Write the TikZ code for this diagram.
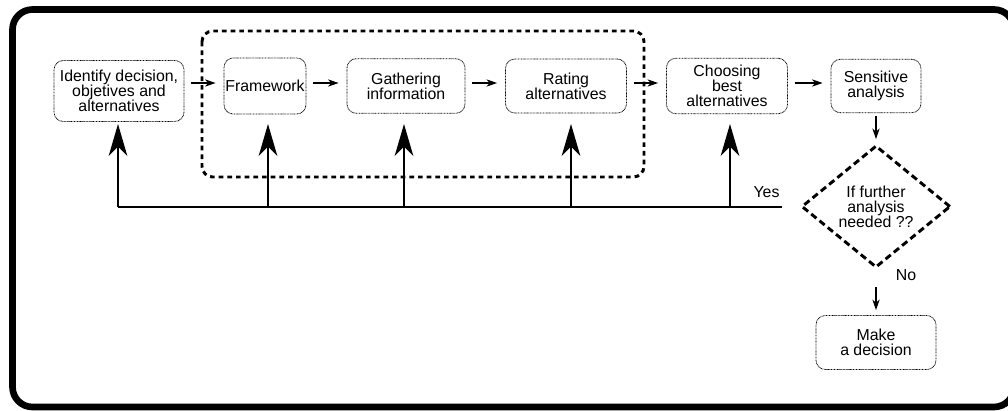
\documentclass[tikz,border=0pt]{standalone}
\usepackage{fontspec}
\setmainfont{Liberation Sans}
\usepackage{tikz}
\usetikzlibrary{arrows.meta,shapes.geometric}

\tikzset{
    stage/.style={draw, dash pattern=on 0.6pt off 0.5pt, line width=0.6pt,
                  rounded corners=7pt, align=center, inner sep=1pt},
    check/.style={diamond, draw, dash pattern=on 5pt off 3pt, line width=2.2pt,
                  align=center, inner sep=0pt, minimum width=111.75pt, minimum height=91.5pt},
    flow/.style={->, line width=0.8pt, shorten <=5pt, shorten >=6pt},
    bigup/.style={-{Stealth[length=24pt, width=14pt, inset=7pt]}, line width=1.5pt},
    back/.style={line width=2.2pt},
    group/.style={dash pattern=on 3.5pt off 3pt, line width=2.2pt, rounded corners=8pt},
    frame/.style={line width=5pt, rounded corners=15pt}
}

\begin{document}
\begin{tikzpicture}[x=0.75pt, y=-0.75pt, >={Stealth[length=8pt, width=5.5pt, inset=2.5pt]},
                    font=\fontsize{11.9}{11.3}\selectfont]
    \useasboundingbox (0,0) rectangle (1008,411);
    \clip (0,0) rectangle (1008,411);

    % Frame and group
    \draw [frame] (12.5,9.5) rectangle (1014,407);
    \draw [group] (202,31) rectangle (644,177);

    % Nodes {id, fw, ga, rt, ch, se, dec, mk}
    \node [stage, minimum width=97.5pt, minimum height=45.75pt] (id) at (119,91) {Identify decision,\\objetives and\\alternatives};
    \node [stage, minimum width=61.5pt, minimum height=42pt]  (fw) [right of=id, node distance=109.5pt, yshift=3.75pt] {Framework};
    \node [stage, minimum width=88.5pt, minimum height=41pt]  (ga) [right of=fw, node distance=105.75pt] {Gathering\\information};
    \node [stage, minimum width=90.75pt, minimum height=40.5pt] (rt) [right of=ga, node distance=120pt] {Rating\\alternatives};
    \node [stage, minimum width=90.75pt, minimum height=41.5pt] (ch) [right of=rt, node distance=120.75pt] {Choosing\\best\\alternatives};
    \node [stage, minimum width=67.5pt, minimum height=40pt]  (se) [right of=ch, node distance=111.75pt] {Sensitive\\analysis};
    \node [check]  (dec) [below of=se, node distance=90.4pt] {If further\\analysis\\needed ??};
    \node [stage, minimum width=90pt, minimum height=40.5pt]  (mk) [below of=dec, node distance=102pt] {Make\\a decision};
    \node (no) at ([xshift=22.5pt, yshift=-4.5pt]dec.south) {No};

    % Feedback line
    \coordinate (fbl) at (118,207);
    \coordinate (fbr) at (782,207);
    \coordinate (top) at (0,124);
    \draw [back] (fbl) -- (fbr) node [anchor=base east, xshift=2.5pt, yshift=7.5pt] (yes) {Yes};
    \foreach \n/\dx in {id/-0.75pt, fw/2.25pt, ga/-1.5pt, rt/3.75pt, ch/2.25pt}
        \draw [bigup] ([xshift=\dx]\n |- fbl) -- ([xshift=\dx]\n |- top);

    % Paths
    \draw [flow] ([yshift=2.25pt]fw.west -| id.east) -- ([yshift=2.25pt]fw.west);
    \draw [flow] ([yshift=2.25pt]fw.east) -- ([yshift=2.25pt]ga.west);
    \draw [flow] ([yshift=2.25pt]ga.east) -- ([yshift=2.25pt]rt.west);
    \draw [flow] ([yshift=2.25pt]rt.east) -- ([yshift=2.25pt]ch.west);
    \draw [flow] ([yshift=2.25pt]ch.east) -- ([yshift=2.25pt]se.west);
    \draw [flow, shorten <=2.25pt, shorten >=3.75pt] (se) -- (dec);
    \draw [flow, shorten <=13.5pt, shorten >=3.75pt] (dec) -- (mk);
\end{tikzpicture}
\end{document}
